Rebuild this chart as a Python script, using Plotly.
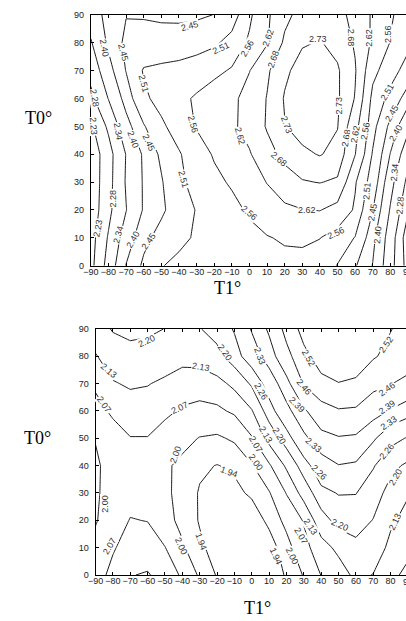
import plotly.graph_objects as go

# ---------------- data ----------------
x_vals = [-90, -80, -70, -60, -50, -40, -30, -20, -10, 0, 10, 20, 30, 40, 50, 60, 70, 80, 90]
y_vals = [0, 10, 20, 30, 40, 50, 60, 70, 80, 90]

levels_top = [2.23, 2.28, 2.34, 2.40, 2.45, 2.51, 2.56, 2.62, 2.68, 2.73]
levels_bottom = [1.94, 2.00, 2.07, 2.13, 2.20, 2.26, 2.33, 2.39, 2.46, 2.52]

z_top_y0 = [2.215, 2.300, 2.402, 2.460, 2.508, 2.520, 2.530, 2.535, 2.538, 2.540, 2.543, 2.545, 2.545, 2.538, 2.508, 2.455, 2.398, 2.300, 2.210]
z_top_y10 = [2.210, 2.285, 2.370, 2.435, 2.470, 2.500, 2.515, 2.530, 2.540, 2.548, 2.557, 2.566, 2.568, 2.561, 2.538, 2.508, 2.415, 2.310, 2.200]
z_top_y20 = [2.200, 2.266, 2.338, 2.405, 2.440, 2.480, 2.513, 2.530, 2.548, 2.566, 2.590, 2.608, 2.618, 2.622, 2.600, 2.553, 2.452, 2.335, 2.235]
z_top_y30 = [2.200, 2.260, 2.345, 2.405, 2.445, 2.498, 2.530, 2.550, 2.565, 2.590, 2.622, 2.655, 2.676, 2.682, 2.672, 2.565, 2.485, 2.360, 2.265]
z_top_y40 = [2.200, 2.258, 2.342, 2.408, 2.460, 2.505, 2.540, 2.564, 2.590, 2.615, 2.660, 2.695, 2.720, 2.733, 2.715, 2.622, 2.505, 2.398, 2.300]
z_top_y50 = [2.220, 2.290, 2.380, 2.445, 2.500, 2.535, 2.563, 2.585, 2.610, 2.640, 2.685, 2.728, 2.750, 2.755, 2.732, 2.640, 2.530, 2.435, 2.355]
z_top_y60 = [2.265, 2.342, 2.420, 2.500, 2.528, 2.548, 2.566, 2.585, 2.605, 2.645, 2.682, 2.734, 2.760, 2.765, 2.737, 2.677, 2.545, 2.495, 2.420]
z_top_y70 = [2.300, 2.380, 2.452, 2.515, 2.522, 2.527, 2.535, 2.548, 2.565, 2.618, 2.672, 2.720, 2.750, 2.755, 2.736, 2.685, 2.575, 2.530, 2.490]
z_top_y80 = [2.335, 2.410, 2.462, 2.470, 2.475, 2.480, 2.490, 2.502, 2.527, 2.568, 2.615, 2.690, 2.725, 2.733, 2.715, 2.674, 2.610, 2.558, 2.522]
z_top_y90 = [2.370, 2.418, 2.448, 2.446, 2.440, 2.437, 2.440, 2.451, 2.485, 2.550, 2.610, 2.665, 2.700, 2.710, 2.695, 2.665, 2.612, 2.565, 2.540]

z_bot_y0 = [2.040, 2.090, 2.128, 2.134, 2.110, 2.060, 1.990, 1.935, 1.905, 1.895, 1.905, 1.946, 2.005, 2.072, 2.100, 2.145, 2.128, 2.090, 2.050]
z_bot_y10 = [2.020, 2.063, 2.100, 2.105, 2.072, 2.010, 1.952, 1.915, 1.900, 1.895, 1.910, 1.975, 2.050, 2.105, 2.145, 2.185, 2.165, 2.115, 2.090]
z_bot_y20 = [1.995, 2.035, 2.073, 2.068, 2.025, 1.980, 1.935, 1.910, 1.895, 1.905, 1.955, 2.020, 2.075, 2.170, 2.225, 2.225, 2.198, 2.140, 2.110]
z_bot_y30 = [1.990, 2.030, 2.045, 2.045, 2.015, 1.975, 1.935, 1.915, 1.925, 1.950, 1.995, 2.073, 2.155, 2.245, 2.263, 2.262, 2.226, 2.180, 2.135]
z_bot_y40 = [1.990, 2.025, 2.035, 2.030, 2.010, 1.985, 1.950, 1.938, 1.950, 1.995, 2.062, 2.140, 2.235, 2.300, 2.328, 2.322, 2.265, 2.215, 2.190]
z_bot_y50 = [2.003, 2.045, 2.068, 2.068, 2.045, 2.020, 1.997, 1.990, 2.010, 2.065, 2.150, 2.235, 2.315, 2.370, 2.385, 2.380, 2.340, 2.280, 2.255]
z_bot_y60 = [2.050, 2.080, 2.100, 2.100, 2.082, 2.063, 2.055, 2.058, 2.080, 2.125, 2.235, 2.310, 2.380, 2.435, 2.455, 2.452, 2.415, 2.385, 2.355]
z_bot_y70 = [2.080, 2.125, 2.138, 2.133, 2.118, 2.100, 2.095, 2.110, 2.145, 2.210, 2.290, 2.370, 2.465, 2.505, 2.518, 2.510, 2.480, 2.462, 2.445]
z_bot_y80 = [2.125, 2.165, 2.180, 2.178, 2.165, 2.150, 2.155, 2.180, 2.235, 2.295, 2.360, 2.440, 2.505, 2.545, 2.560, 2.555, 2.525, 2.505, 2.490]
z_bot_y90 = [2.170, 2.205, 2.215, 2.210, 2.199, 2.190, 2.197, 2.225, 2.265, 2.335, 2.400, 2.480, 2.540, 2.565, 2.578, 2.570, 2.545, 2.522, 2.500]

# inline contour labels (text, position along its line, rotation)
top_lab_text = ["2.45", "2.51", "2.56", "2.62", "2.68", "2.73", "2.68", "2.62", "2.56",
                "2.40", "2.45", "2.51", "2.28", "2.23", "2.34", "2.40", "2.45", "2.56",
                "2.62", "2.73", "2.73", "2.68", "2.62", "2.56", "2.51", "2.45", "2.40",
                "2.68", "2.51", "2.28", "2.62", "2.56", "2.34", "2.51", "2.28", "2.45",
                "2.23", "2.34", "2.40", "2.45", "2.56", "2.40"]
top_lab_x = [-33.7, -16.0, -1.1, 10.5, 13.8, 39.0, 57.6, 67.9, 79.0,
             -82.2, -71.9, -59.8, -88.1, -88.7, -74.7, -66.3, -57.0, -31.8,
             -5.4, 21.3, 51.1, 54.9, 60.4, 66.0, 78.2, 81.0, 83.2,
             16.6, -37.4, -77.5, 32.5, -0.1, 82.6, 67.0, 85.6, 69.8,
             -85.9, -74.7, -66.3, -57.0, 49.3, 72.6]
top_lab_y = [85.9, 78.2, 78.2, 81.8, 74.0, 81.2, 81.8, 81.8, 83.0,
             78.2, 76.5, 65.3, 60.0, 50.0, 48.2, 45.3, 44.1, 50.6,
             46.5, 50.6, 57.6, 45.9, 47.1, 48.2, 62.4, 54.7, 47.6,
             38.2, 31.2, 24.1, 20.0, 18.8, 33.5, 27.0, 21.8, 19.4,
             13.5, 11.2, 9.4, 8.8, 11.8, 11.2]
top_lab_angle = [-15, -25, -60, -70, -70, 0, 90, -90, -90,
                 80, 75, 75, 80, 85, 80, 70, 65, 75,
                 75, 70, -90, -80, -80, -80, -60, -60, -60,
                 40, 75, -90, 0, 40, -85, -85, -85, -80,
                 -80, -75, -60, -55, -25, -85]

bot_lab_text = ["2.20", "2.20", "2.33", "2.52", "2.52", "2.13", "2.13", "2.26", "2.46",
                "2.46", "2.07", "2.07", "2.39", "2.39", "2.33", "2.13", "2.20", "2.07",
                "2.33", "2.26", "2.00", "2.00", "1.94", "2.26", "2.20", "2.00", "2.20",
                "2.13", "2.13", "2.07", "2.07", "2.00", "1.94", "1.94", "2.00"]
bot_lab_x = [-60.4, -15.2, 4.6, 32.8, 77.1, -82.1, -29.4, 5.5, 30.0,
             78.0, -84.9, -41.6, 26.2, 78.0, 79.0, 8.3, 15.8, 2.7,
             35.7, 78.0, -43.5, 2.7, -13.2, 38.5, 83.0, -84.5, 50.8,
             82.4, 34.0, 28.4, -81.8, -40.8, -29.5, 13.8, 23.2]
bot_lab_y = [85.5, 81.3, 80.1, 79.5, 84.3, 74.7, 76.1, 67.0, 68.7,
             68.1, 62.2, 61.0, 62.2, 61.6, 55.6, 51.3, 50.7, 47.7,
             47.7, 45.3, 44.1, 41.1, 37.5, 37.5, 35.7, 26.1, 18.3,
             19.5, 17.7, 14.2, 10.5, 10.5, 12.3, 6.9, 6.9]
bot_lab_angle = [-25, 55, 70, 60, -55, 40, 10, 60, 50,
                 -35, 55, -25, 45, -35, -35, 60, 60, 60,
                 40, -50, -70, 55, 20, 45, -60, -90, 25,
                 -65, 55, 60, -60, 65, 70, 65, 65]

x_ticks = [-90, -80, -70, -60, -50, -40, -30, -20, -10, 0, 10, 20, 30, 40, 50, 60, 70, 80, 90]
y_ticks = [0, 10, 20, 30, 40, 50, 60, 70, 80, 90]
x_title = "T1°"
y_title = "T0°"

z_top = [z_top_y0, z_top_y10, z_top_y20, z_top_y30, z_top_y40,
         z_top_y50, z_top_y60, z_top_y70, z_top_y80, z_top_y90]
z_bot = [z_bot_y0, z_bot_y10, z_bot_y20, z_bot_y30, z_bot_y40,
         z_bot_y50, z_bot_y60, z_bot_y70, z_bot_y80, z_bot_y90]

# ---------------- figure ----------------
W, H = 406, 621
fig = go.Figure()


def add_levels(z, levels, xa, ya):
    for lv in levels:
        fig.add_trace(go.Contour(
            x=x_vals, y=y_vals, z=z,
            autocontour=False,
            contours=dict(start=lv, end=lv, size=1, coloring="none", showlabels=False),
            line=dict(color="black", width=0.9, smoothing=0),
            showscale=False, hoverinfo="skip",
            xaxis=xa, yaxis=ya,
        ))


add_levels(z_top, levels_top, "x", "y")
add_levels(z_bot, levels_bottom, "x2", "y2")

# pixel geometry of the two panels (x = 90 sits just past the right edge)
top_left, top_right90, top_top, top_bot = 84.5, 408.0, 10.0, 265.0
bot_left, bot_right90, bot_top, bot_bot = 89.3, 408.0, 329.3, 579.3


def x_range(left, right90):
    per = (right90 - left) / 180.0
    return [-90, -90 + (W - left) / per]


tick_font = dict(family="Liberation Sans, Arial, sans-serif", size=9, color="#222222")
xaxis_common = dict(
    tickvals=x_ticks, ticks="inside", ticklen=3, tickwidth=1, tickcolor="black",
    showline=True, linecolor="black", linewidth=1, mirror="ticks",
    showgrid=False, zeroline=False, tickfont=tick_font, ticklabelstandoff=-3,
)
yaxis_common = dict(
    tickvals=y_ticks, ticks="inside", ticklen=3, tickwidth=1, tickcolor="black",
    showline=True, linecolor="black", linewidth=1, mirror=False,
    showgrid=False, zeroline=False, tickfont=tick_font, range=[0, 90],
    ticklabelstandoff=4,
)

fig.update_layout(
    width=W, height=H, autosize=False,
    margin=dict(l=0, r=0, t=0, b=0),
    paper_bgcolor="white", plot_bgcolor="white",
    showlegend=False,
    xaxis=dict(domain=[top_left / W, 1.0], range=x_range(top_left, top_right90),
               anchor="y", **xaxis_common),
    yaxis=dict(domain=[(H - top_bot) / H, (H - top_top) / H], anchor="x",
               **yaxis_common),
    xaxis2=dict(domain=[bot_left / W, 1.0], range=x_range(bot_left, bot_right90),
                anchor="y2", **xaxis_common),
    yaxis2=dict(domain=[(H - bot_bot) / H, (H - bot_top) / H], anchor="x2",
                **yaxis_common),
)

lab_font = dict(family="Liberation Sans, Arial, sans-serif", size=9, color="#333333")
ann = []
for t, xx, yy, a in zip(top_lab_text, top_lab_x, top_lab_y, top_lab_angle):
    ann.append(dict(text=t, x=xx, y=yy, xref="x", yref="y", showarrow=False,
                    textangle=a, font=lab_font, bgcolor="white", borderpad=0))
for t, xx, yy, a in zip(bot_lab_text, bot_lab_x, bot_lab_y, bot_lab_angle):
    ann.append(dict(text=t, x=xx, y=yy, xref="x2", yref="y2", showarrow=False,
                    textangle=a, font=lab_font, bgcolor="white", borderpad=0))

# the "90" tick label sits on the cropped right edge, as in the reference
ann.append(dict(text="90", x=408 / W, y=(H - 271) / H, xref="paper", yref="paper",
                showarrow=False, font=tick_font, xanchor="center", yanchor="middle"))
ann.append(dict(text="90", x=408 / W, y=(H - 586) / H, xref="paper", yref="paper",
                showarrow=False, font=tick_font, xanchor="center", yanchor="middle"))

title_font = dict(family="Liberation Serif, Times New Roman, serif", size=18, color="black")
ann.append(dict(text=y_title, x=31 / W, y=(H - 115) / H, xref="paper", yref="paper",
                showarrow=False, font=title_font, xanchor="center", yanchor="middle"))
ann.append(dict(text=y_title, x=30 / W, y=(H - 440) / H, xref="paper", yref="paper",
                showarrow=False, font=title_font, xanchor="center", yanchor="middle"))
ann.append(dict(text=x_title, x=224 / W, y=(H - 287.5) / H, xref="paper", yref="paper",
                showarrow=False, font=title_font, xanchor="center", yanchor="middle"))
ann.append(dict(text=x_title, x=255 / W, y=(H - 613) / H, xref="paper", yref="paper",
                showarrow=False, font=title_font, xanchor="center", yanchor="middle"))
fig.update_layout(annotations=ann)

fig.write_html(
    "out.html",
    include_plotlyjs=True,
    config={"displayModeBar": False, "staticPlot": True},
    post_script="document.body.style.margin='0';document.body.style.overflow='hidden';",
)
